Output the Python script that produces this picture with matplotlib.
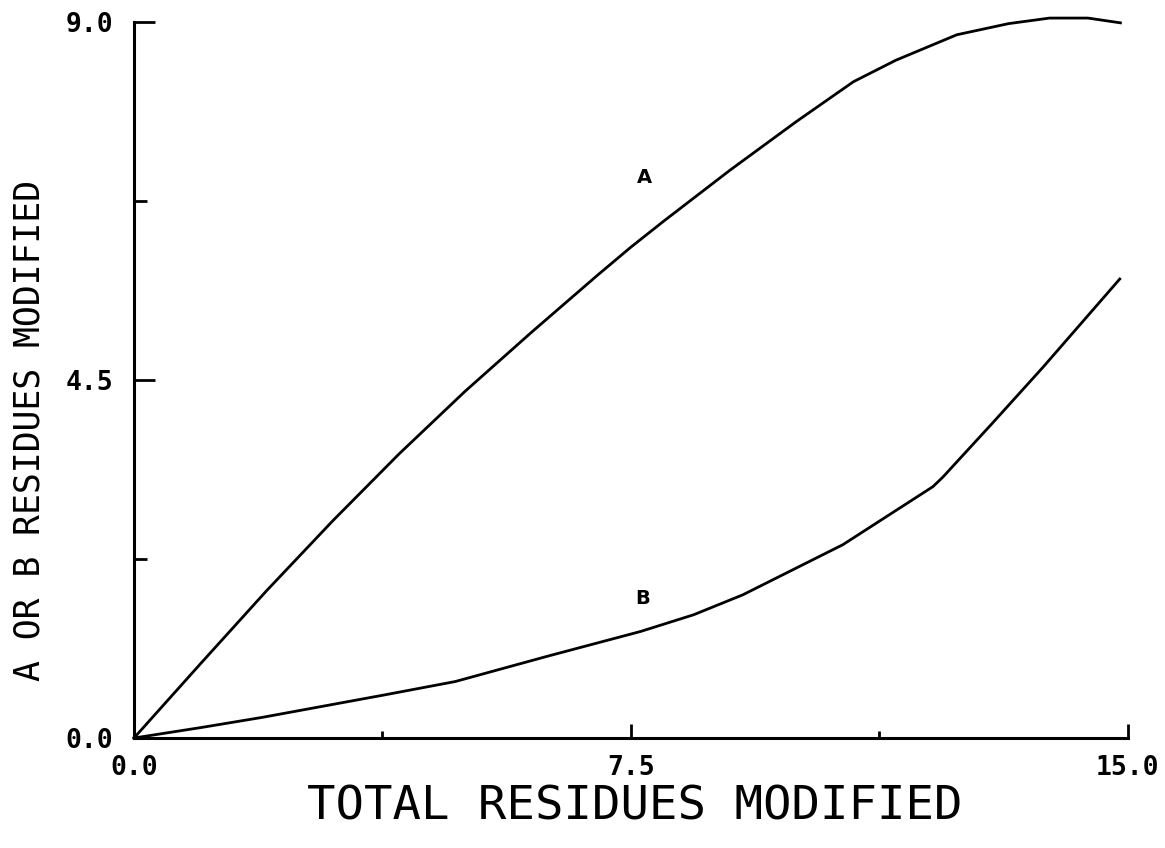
import matplotlib
matplotlib.use("Agg")
import matplotlib.pyplot as plt

# Datos
x_a = [0.0, 1.0, 2.0, 3.0, 4.0, 5.0, 6.0, 7.0, 7.5, 8.0, 9.0, 10.0, 10.86, 11.5, 12.42, 13.2, 13.82, 14.4, 14.89]
y_a = [0.0, 0.93, 1.85, 2.73, 3.57, 4.36, 5.10, 5.82, 6.17, 6.50, 7.14, 7.75, 8.25, 8.52, 8.84, 8.98, 9.05, 9.05, 8.99]

x_b = [0.0, 1.0, 1.94, 3.77, 4.85, 6.25, 7.65, 8.45, 9.19, 10.7, 12.06, 12.21, 12.96, 13.72, 14.88]
y_b = [0.0, 0.13, 0.26, 0.54, 0.71, 1.03, 1.34, 1.55, 1.80, 2.43, 3.16, 3.28, 3.96, 4.66, 5.77]

x_ticks = [0.0, 7.5, 15.0]
x_minor = [3.75, 11.25]
y_ticks = [0.0, 4.5, 9.0]
y_minor = [2.25, 6.75]
tick_labels_x = ["0.0", "7.5", "15.0"]
tick_labels_y = ["0.0", "4.5", "9.0"]

fig = plt.figure(figsize=(11.65, 8.48), dpi=100)
ax = fig.add_axes([0.115, 0.1297, 0.853, 0.8443])

ax.plot(x_a, y_a, color="black", linewidth=2.0, clip_on=False)
ax.plot(x_b, y_b, color="black", linewidth=2.0, clip_on=False)

# etiquetas de las curvas
ax.text(7.71, 7.05, "A", fontsize=14, fontweight="bold", ha="center", va="center")
ax.text(7.68, 1.76, "B", fontsize=14, fontweight="bold", ha="center", va="center")

ax.set_xlim(0, 15)
ax.set_ylim(0, 9)

for lado in ["top", "right"]:
    ax.spines[lado].set_visible(False)
for lado in ["left", "bottom"]:
    ax.spines[lado].set_linewidth(2.2)

ax.set_xticks(x_ticks)
ax.set_xticklabels(tick_labels_x)
ax.set_xticks(x_minor, minor=True)
ax.set_yticks(y_ticks)
ax.set_yticklabels(tick_labels_y)
ax.set_yticks(y_minor, minor=True)

ax.tick_params(axis="x", which="major", direction="in", length=10, width=2, pad=12)
ax.tick_params(axis="x", which="minor", direction="in", length=5, width=2)
ax.tick_params(axis="y", which="major", direction="in", length=15, width=2, pad=15)
ax.tick_params(axis="y", which="minor", direction="in", length=9, width=2)

for lbl in ax.get_xticklabels() + ax.get_yticklabels():
    lbl.set_family("DejaVu Sans Mono")
    lbl.set_fontweight("bold")
    lbl.set_fontsize(19)

ax.set_xlabel("TOTAL RESIDUES MODIFIED", family="DejaVu Sans Mono", fontsize=34)
ax.set_ylabel("A OR B RESIDUES MODIFIED", family="DejaVu Sans Mono", fontsize=25)
ax.xaxis.set_label_coords(0.504, -0.097)
ax.yaxis.set_label_coords(-0.105, 0.429)
ax.xaxis.label.set_va("center")
ax.yaxis.label.set_va("center")

fig.savefig("out.png", dpi=100)
